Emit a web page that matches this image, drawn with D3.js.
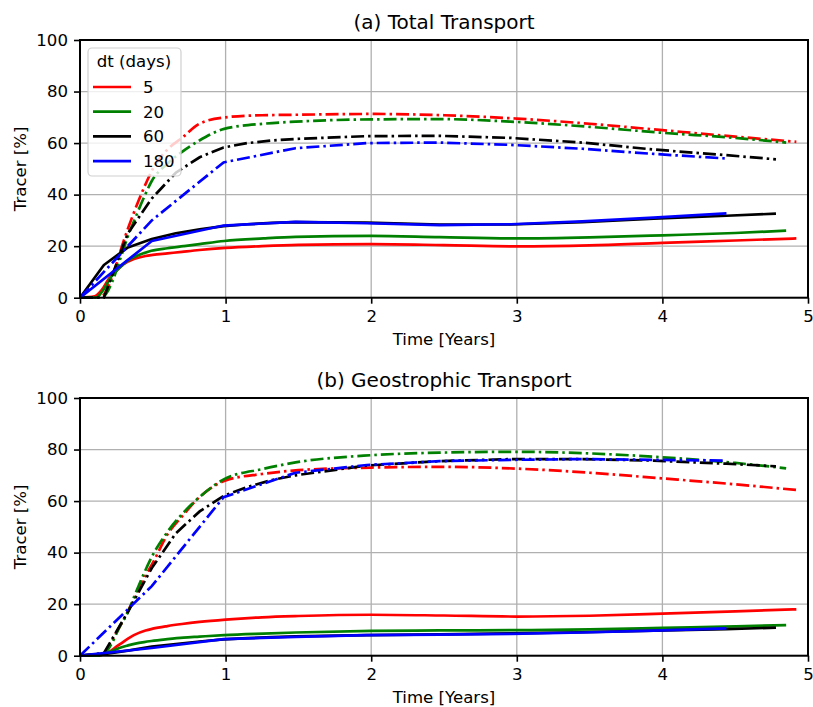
<!DOCTYPE html>
<html>
<head>
<meta charset="utf-8">
<script src="https://cdn.jsdelivr.net/npm/d3@7"></script>
<style>
  body { margin: 0; background: #fff; }
  svg { font-family: "DejaVu Sans", sans-serif; }
</style>
</head>
<body>
<svg id="chart" width="813" height="707"></svg>
<script>
// ---- data -----------------------------------------------------------
const dtLabels = ["5", "20", "60", "180"];
const titles = ["(a) Total Transport", "(b) Geostrophic Transport"];
const xTicks = [0, 1, 2, 3, 4, 5];
const yTicks = [0, 20, 40, 60, 80, 100];

// time grids (years) for each dt
const t5 = [0, 0.1, 0.15, 0.2, 0.25, 0.3, 0.37, 0.45, 0.5, 0.6, 0.7, 0.82, 1.0, 1.25, 1.5, 2.0, 2.5, 3.0, 3.5, 4.0, 4.5, 4.92];
const t20 = [0, 0.11, 0.16, 0.22, 0.27, 0.33, 0.38, 0.44, 0.49, 0.6, 0.71, 0.82, 0.99, 1.26, 1.48, 2.0, 2.47, 3.0, 3.5, 4.0, 4.5, 4.85];
const t60 = [0, 0.164, 0.329, 0.493, 0.658, 0.822, 0.986, 1.15, 1.32, 1.48, 1.97, 2.47, 2.96, 3.45, 3.94, 4.44, 4.78];
const t180 = [0, 0.493, 0.986, 1.48, 1.97, 2.47, 2.96, 3.45, 3.94, 4.44];

// (a) total transport, solid
const totSolid5 = [0, 0.5, 3, 7.5, 10.5, 13, 15, 16.2, 16.6, 17.2, 17.8, 18.5, 19.3, 20.0, 20.5, 20.8, 20.4, 19.9, 20.3, 21.3, 22.2, 23];
const totSolid20 = [0, 0, 3, 8.5, 11.5, 14.5, 16, 17.3, 18.2, 19.2, 20, 20.8, 22, 23, 23.6, 24, 23.5, 23, 23.4, 24.2, 25.1, 26];
const totSolid60 = [0, 12.7, 19.5, 22.8, 25, 26.5, 27.8, 28.5, 29, 29.3, 29.1, 28.4, 28.4, 29.3, 30.7, 31.8, 32.6];
const totSolid180 = [0, 22, 28, 29.4, 28.9, 28.2, 28.5, 29.6, 31.1, 32.7];
// (a) total transport, dash-dot
const totDash5 = [0, 0, 0.5, 5, 13, 22, 33, 44, 50, 57.5, 62, 67.5, 70, 70.8, 71, 71.3, 70.8, 69.5, 67.5, 65, 62.5, 60.5];
const totDash20 = [0, 0, 0.5, 6, 14, 24, 31, 39, 45, 52, 57, 61, 65.5, 67.5, 68.3, 69.2, 69.3, 68.2, 66.3, 64, 62, 60.2];
const totDash60 = [0, 0, 25, 38.5, 48.5, 54.5, 58.3, 60, 61, 61.6, 62.7, 62.8, 62, 60.2, 57.5, 55.3, 53.7];
const totDash180 = [0, 30, 52.5, 58, 60, 60.2, 59.3, 57.8, 55.8, 54];

// (b) geostrophic transport, solid
const geoSolid5 = [0, 0, 0.3, 1.5, 3.5, 5.5, 8, 9.8, 10.5, 11.5, 12.3, 13.1, 14, 14.9, 15.4, 15.9, 15.6, 15.2, 15.5, 16.3, 17.2, 18];
const geoSolid20 = [0, 0, 0.5, 1.8, 3, 4, 4.7, 5.3, 5.7, 6.4, 7, 7.4, 8, 8.6, 9, 9.6, 9.8, 9.9, 10.2, 10.8, 11.4, 11.9];
const geoSolid60 = [0, 0.6, 2, 3.5, 4.5, 5.5, 6.3, 6.8, 7.2, 7.5, 8, 8.3, 8.7, 9.1, 9.7, 10.3, 10.9];
const geoSolid180 = [0, 3, 6.4, 7.3, 8, 8.2, 8.5, 9, 9.7, 10.6];
// (b) geostrophic transport, dash-dot
const geoDash5 = [0, 0, 0.3, 4, 9, 14, 22, 31, 36, 47, 54, 61.5, 68, 70.5, 72, 73, 73.3, 72.6, 71, 68.8, 66.5, 64.3];
const geoDash20 = [0, 0, 0.5, 5, 11, 17, 24, 32, 38, 48, 55.5, 61.5, 68.5, 72.5, 75, 77.8, 78.8, 79.1, 78.5, 77, 74.8, 72.7];
const geoDash60 = [0, 1, 17, 34, 47.5, 56, 62, 65.5, 68.2, 70, 73.8, 75.5, 76.3, 76.3, 75.7, 74.5, 73.5];
const geoDash180 = [0, 27, 61.5, 71, 74, 75.5, 76, 76.3, 76, 75.7];

// ---- styles ---------------------------------------------------------
const colors = ["#ff0000", "#008000", "#000000", "#0000ff"];
const times = [t5, t20, t60, t180];
const curves = [d3.curveMonotoneX, d3.curveMonotoneX, d3.curveLinear, d3.curveLinear];
const panelData = [
  { solid: [totSolid5, totSolid20, totSolid60, totSolid180], dash: [totDash5, totDash20, totDash60, totDash180] },
  { solid: [geoSolid5, geoSolid20, geoSolid60, geoSolid180], dash: [geoDash5, geoDash20, geoDash60, geoDash180] }
];

const svg = d3.select("#chart");
const left = 80, right = 808;
const panelTops = [40, 398];
const ph = 257.7;
const lw = 2.7;
const fs = "16.6px";

const x = d3.scaleLinear().domain([0, 5]).range([left, right]);

panelData.forEach(function (pd, pi) {
  const top = panelTops[pi];
  const y = d3.scaleLinear().domain([0, 100]).range([top + ph, top]);
  const g = svg.append("g");

  // grid
  g.append("g").selectAll("line").data(xTicks).enter().append("line")
    .attr("x1", d => x(d)).attr("x2", d => x(d))
    .attr("y1", top).attr("y2", top + ph)
    .attr("stroke", "#b0b0b0").attr("stroke-width", 1.3);
  g.append("g").selectAll("line").data(yTicks).enter().append("line")
    .attr("x1", left).attr("x2", right)
    .attr("y1", d => y(d)).attr("y2", d => y(d))
    .attr("stroke", "#b0b0b0").attr("stroke-width", 1.3);

  // lines
  const plot = g.append("g");
  [0, 1, 2, 3].forEach(function (k) {
    const t = times[k];
    const line = d3.line()
      .x((d, i) => x(t[i]))
      .y(d => y(d))
      .curve(curves[k]);
    plot.append("path")
      .attr("d", line(pd.solid[k]))
      .attr("fill", "none")
      .attr("stroke", colors[k])
      .attr("stroke-width", lw)
      .attr("stroke-linejoin", "round");
    plot.append("path")
      .attr("d", line(pd.dash[k]))
      .attr("fill", "none")
      .attr("stroke", colors[k])
      .attr("stroke-width", lw)
      .attr("stroke-dasharray", "13,4,2.5,4");
  });

  // axes
  const xAxis = g.append("g")
    .attr("transform", `translate(0,${top + ph})`)
    .call(d3.axisBottom(x).tickValues(xTicks).tickFormat(d3.format("d")).tickSize(6).tickSizeOuter(0).tickPadding(7));
  const yAxis = g.append("g")
    .attr("transform", `translate(${left},0)`)
    .call(d3.axisLeft(y).tickValues(yTicks).tickSize(6).tickSizeOuter(0).tickPadding(6));
  [xAxis, yAxis].forEach(function (a) {
    a.select(".domain").remove();
    a.selectAll(".tick line").attr("stroke", "#000").attr("stroke-width", 1.6);
    a.selectAll(".tick text").attr("fill", "#000")
      .style("font-family", "DejaVu Sans").style("font-size", fs);
  });

  // frame
  g.append("rect")
    .attr("x", left).attr("y", top)
    .attr("width", right - left).attr("height", ph)
    .attr("fill", "none").attr("stroke", "#000").attr("stroke-width", 2);

  // labels
  g.append("text")
    .attr("x", (left + right) / 2).attr("y", top - 11)
    .attr("text-anchor", "middle").style("font-size", "20px")
    .text(titles[pi]);
  g.append("text")
    .attr("x", (left + right) / 2).attr("y", top + ph + 47)
    .attr("text-anchor", "middle").style("font-size", fs)
    .text("Time [Years]");
  g.append("text")
    .attr("transform", `translate(26,${top + ph / 2}) rotate(-90)`)
    .attr("text-anchor", "middle").style("font-size", fs)
    .text("Tracer [%]");

  // legend only on first panel
  if (pi === 0) {
    const lg = g.append("g");
    lg.append("rect")
      .attr("x", 88).attr("y", 48).attr("width", 93).attr("height", 128)
      .attr("rx", 4).attr("fill", "#fff").attr("fill-opacity", 0.8)
      .attr("stroke", "#d0d0d0").attr("stroke-width", 1.2);
    lg.append("text").attr("x", 134).attr("y", 67)
      .attr("text-anchor", "middle").style("font-size", fs).text("dt (days)");
    dtLabels.forEach(function (lab, k) {
      const yy = 87 + k * 24.7;
      lg.append("line")
        .attr("x1", 93).attr("x2", 131).attr("y1", yy).attr("y2", yy)
        .attr("stroke", colors[k]).attr("stroke-width", lw);
      lg.append("text").attr("x", 143).attr("y", yy + 6)
        .style("font-size", fs).text(lab);
    });
  }
});
</script>
</body>
</html>
